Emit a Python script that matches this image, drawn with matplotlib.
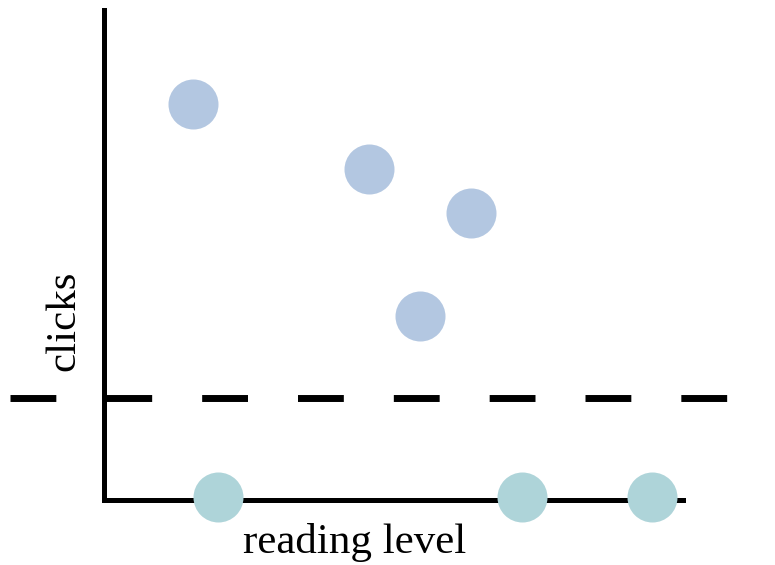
import matplotlib as mpl
import matplotlib.pyplot as plt

mpl.use('Agg')

# reading level vs clicks, above / below the threshold
above_x = [1.54, 4.58, 6.34, 5.46]
above_y = [8.08, 6.76, 5.86, 3.76]
below_x = [1.97, 7.22, 9.46]
below_y = [0.06, 0.06, 0.06]
threshold = 2.08

plt.rcParams['font.family'] = ['Liberation Serif', 'DejaVu Serif']

fig = plt.figure(figsize=(7.75, 5.65), dpi=100)
ax = fig.add_axes([0.134, 0.115, 0.747, 0.867])
ax.set_xlim(0, 10)
ax.set_ylim(0, 10)

ax.plot(above_x, above_y, 'o', color='#b3c7e1', markersize=36, markeredgewidth=0, clip_on=False, zorder=3)
ax.plot(below_x, below_y, 'o', color='#aed4d9', markersize=36, markeredgewidth=0, clip_on=False, zorder=3)

line, = ax.plot([-1.62, 10.81], [threshold, threshold], color='black', lw=5, clip_on=False)
line.set_dashes((6.6, 7.2))
line.set_dash_capstyle('butt')

for s in ['top', 'right']:
    ax.spines[s].set_visible(False)
for s in ['left', 'bottom']:
    ax.spines[s].set_linewidth(3.6)
ax.set_xticks([])
ax.set_yticks([])

fig.text(355 / 775, 1 - 542 / 565, 'reading level', fontsize=31, ha='center', va='center')
fig.text(64 / 775, 1 - 321 / 565, 'clicks', fontsize=31, ha='center', va='center', rotation=90)

fig.savefig('out.png', dpi=100)
